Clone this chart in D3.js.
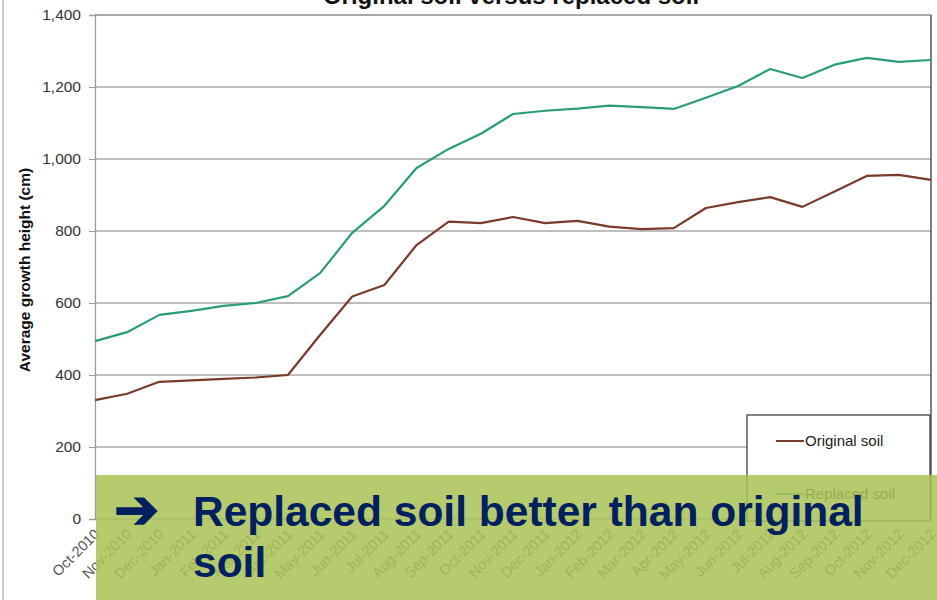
<!DOCTYPE html>
<html>
<head>
<meta charset="utf-8">
<script src="https://cdn.jsdelivr.net/npm/d3@7"></script>
<style>
  html, body { margin: 0; padding: 0; background: #fff; }
  svg { display: block; font-family: "Liberation Sans", Arial, sans-serif; }
</style>
</head>
<body>
<svg id="chart" width="937" height="600"></svg>
<script>
// Monthly measurements, Oct-2010 .. Dec-2012
const months = ["Oct-2010","Nov-2010","Dec-2010","Jan-2011","Feb-2011","Mar-2011","Apr-2011","May-2011",
  "Jun-2011","Jul-2011","Aug-2011","Sep-2011","Oct-2011","Nov-2011","Dec-2011","Jan-2012","Feb-2012",
  "Mar-2012","Apr-2012","May-2012","Jun-2012","Jul-2012","Aug-2012","Sep-2012","Oct-2012","Nov-2012","Dec-2012"];
const originalSoil = [330,348,381,385,389,393,400,511,618,650,761,826,822,839,822,828,812,805,808,864,880,894,867,910,953,956,942];
const replacedSoil = [494,519,567,578,592,600,619,683,795,870,975,1028,1070,1125,1134,1140,1148,1144,1139,1170,1203,1250,1225,1262,1281,1270,1275];
const yTicks = [0,200,400,600,800,1000,1200,1400];
const seriesNames = ["Original soil","Replaced soil"];
const seriesColors = ["#7a3a2c","#2a9d78"];

const svg = d3.select("#chart");
const plot = { left: 95, right: 931, top: 15, bottom: 519 };

const x = d3.scalePoint().domain(months).range([plot.left, plot.right]);
const y = d3.scaleLinear().domain([0, 1400]).range([plot.bottom, plot.top]);

// outer chart frame (left edge)
svg.append("line").attr("x1", 3).attr("x2", 3).attr("y1", 0).attr("y2", 600)
  .attr("stroke", "#9a9a9a").attr("stroke-width", 1);

// title
svg.append("text").attr("x", 511).attr("y", 4)
  .attr("text-anchor", "middle").attr("font-weight", "bold").attr("font-size", 24)
  .attr("fill", "#111").text("Original soil versus replaced soil");

// horizontal gridlines
svg.append("g").selectAll("line").data(yTicks).join("line")
  .attr("x1", plot.left).attr("x2", plot.right)
  .attr("y1", d => y(d)).attr("y2", d => y(d))
  .attr("stroke", d => d === 1400 ? "#8c8c8c" : "#a8a8a8").attr("stroke-width", 1.3);

// y axis
const yAxis = d3.axisLeft(y).tickValues(yTicks).tickSize(6).tickPadding(8)
  .tickFormat(d3.format(","));
const gy = svg.append("g").attr("transform", `translate(${plot.left},0)`).call(yAxis);
gy.select(".domain").attr("stroke", "#9a9a9a").attr("stroke-width", 1.3);
gy.selectAll(".tick line").attr("stroke", "#9a9a9a");
gy.selectAll(".tick text").attr("font-size", 15.5).attr("fill", "#333")
  .attr("font-family", "Liberation Sans, Arial, sans-serif");

// right plot border
svg.append("line").attr("x1", plot.right).attr("x2", plot.right)
  .attr("y1", plot.top).attr("y2", plot.bottom).attr("stroke", "#555").attr("stroke-width", 1.5);

// y axis title
svg.append("text")
  .attr("transform", "translate(30,270) rotate(-90)")
  .attr("text-anchor", "middle").attr("font-weight", "bold").attr("font-size", 15.5)
  .attr("fill", "#111").text("Average growth height (cm)");

// x axis labels, rotated
const xAxis = d3.axisBottom(x).tickSize(0).tickPadding(0);
const gx = svg.append("g").attr("transform", `translate(0,${plot.bottom})`).call(xAxis);
gx.select(".domain").remove();
gx.selectAll(".tick text")
  .attr("font-size", 14.5).attr("fill", "#555")
  .attr("font-family", "Liberation Sans, Arial, sans-serif")
  .attr("text-anchor", "end").attr("dy", null)
  .attr("transform", "translate(5,16) rotate(-45)");

// series lines
const line = d3.line().x((d, i) => x(months[i])).y(d => y(d));
[originalSoil, replacedSoil].forEach((vals, k) => {
  svg.append("path").datum(vals).attr("d", line)
    .attr("fill", "none").attr("stroke", seriesColors[k]).attr("stroke-width", 2.2)
    .attr("stroke-linejoin", "round");
});

// legend
const legend = svg.append("g");
legend.append("rect").attr("x", 747).attr("y", 415).attr("width", 183).attr("height", 106)
  .attr("fill", "#fff").attr("stroke", "#333").attr("stroke-width", 1.2);
seriesNames.forEach((name, k) => {
  const ly = 441 + k * 53;
  legend.append("line").attr("x1", 776).attr("x2", 804).attr("y1", ly).attr("y2", ly)
    .attr("stroke", seriesColors[k]).attr("stroke-width", 2);
  legend.append("text").attr("x", 805).attr("y", ly + 5)
    .attr("font-size", 15).attr("fill", "#222").text(name);
});

// highlighted conclusion banner over the bottom of the chart
const banner = svg.append("g");
banner.append("rect").attr("x", 96).attr("y", 475).attr("width", 841).attr("height", 125)
  .attr("fill", "#aac256").attr("fill-opacity", 0.86);
banner.append("text").attr("x", 114).attr("y", 528)
  .attr("font-family", "DejaVu Sans, sans-serif").attr("font-size", 54)
  .attr("fill", "#002060").attr("stroke", "#002060").attr("stroke-width", 1.5)
  .text("➔");
banner.append("text").attr("x", 193).attr("y", 526)
  .attr("font-weight", "bold").attr("font-size", 42.5).attr("fill", "#002060")
  .text("Replaced soil better than original");
banner.append("text").attr("x", 193).attr("y", 577)
  .attr("font-weight", "bold").attr("font-size", 42.5).attr("fill", "#002060")
  .text("soil");
</script>
</body>
</html>
